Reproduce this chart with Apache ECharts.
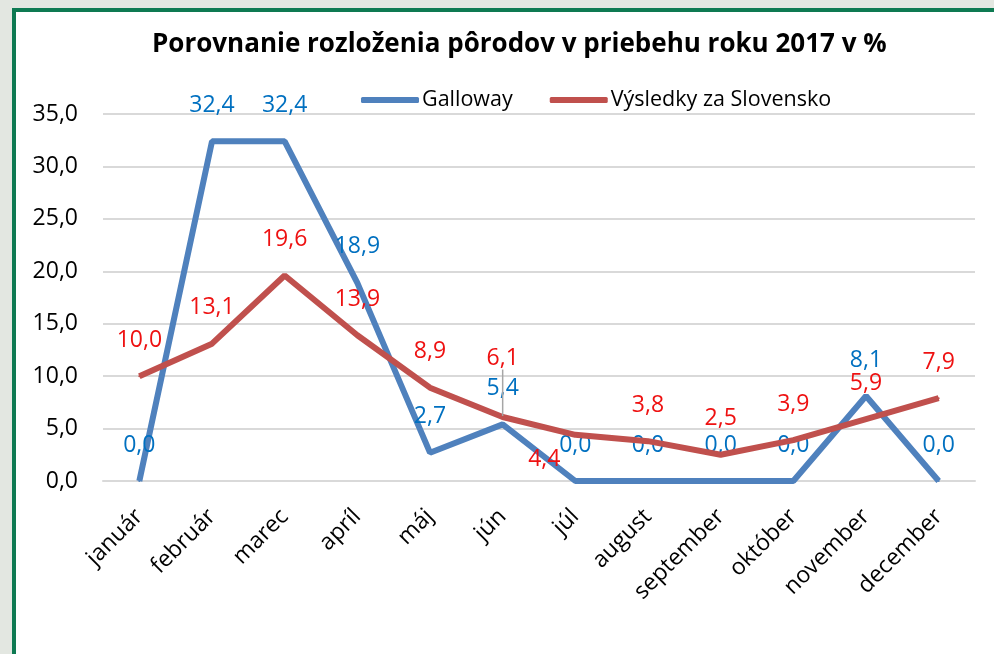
<!DOCTYPE html>
<html>
<head>
<meta charset="utf-8">
<script src="https://cdn.jsdelivr.net/npm/echarts@6/dist/echarts.min.js"></script>
<style>
    html, body { margin: 0; padding: 0; width: 994px; height: 654px; overflow: hidden; background: #e3e7e1; }
    #frame { position: absolute; left: 12px; top: 8px; width: 990px; height: 660px; background: #fff; border: 4px solid #0e7a52; }
    #echarts { position: absolute; left: 0; top: 0; width: 994px; height: 654px; }
</style>
</head>
<body>
<div id="frame"></div>
<div id="echarts"></div>
<script>
var months = ['január', 'február', 'marec', 'apríl', 'máj', 'jún', 'júl', 'august', 'september', 'október', 'november', 'december'];
var galloway = [0.0, 32.4, 32.4, 18.9, 2.7, 5.4, 0.0, 0.0, 0.0, 0.0, 8.1, 0.0];
var slovensko = [10.0, 13.1, 19.6, 13.9, 8.9, 6.1, 4.4, 3.8, 2.5, 3.9, 5.9, 7.9];

var FONT = '"Open Sans", sans-serif';

function fmt(v) {
    return v.toFixed(1).replace('.', ',');
}

var chartDom = document.getElementById('echarts');
var myChart = echarts.init(chartDom, null, { renderer: 'canvas' });

// jún label is pushed up and gets a leader line to its point
var slovData = slovensko.map(function (v, i) {
    var item = { value: v };
    if (i === 5) {
        item.labelLine = { show: true, lineStyle: { color: '#a6a6a6', width: 1.5 } };
    }
    return item;
});

const option = {
    animation: false,
    title: {
        text: 'Porovnanie rozloženia pôrodov v priebehu roku 2017 v %',
        left: 147,
        top: 27,
        textStyle: {
            fontFamily: FONT,
            fontSize: 26,
            fontWeight: 'bold',
            color: '#000'
        }
    },
    legend: {
        left: 356,
        top: 84,
        itemWidth: 58,
        itemHeight: 6,
        itemGap: 37,
        icon: 'roundRect',
        textStyle: {
            fontFamily: FONT,
            fontSize: 21.5,
            color: '#000',
            padding: [0, 0, 0, -2]
        }
    },
    grid: {
        left: 103,
        right: 19,
        top: 114,
        bottom: 173
    },
    xAxis: {
        type: 'category',
        data: months,
        boundaryGap: true,
        axisTick: { show: false },
        axisLine: { lineStyle: { color: '#d9d9d9', width: 2 } },
        axisLabel: {
            interval: 0,
            rotate: 45,
            margin: 32,
            fontFamily: FONT,
            fontSize: 23,
            color: '#000'
        }
    },
    yAxis: {
        type: 'value',
        min: 0,
        max: 35,
        interval: 5,
        axisLine: { show: false },
        axisTick: { show: false },
        splitLine: { lineStyle: { color: '#d9d9d9', width: 2 } },
        axisLabel: {
            margin: 25,
            fontFamily: FONT,
            fontSize: 23,
            color: '#000',
            formatter: fmt
        }
    },
    series: [
        {
            name: 'Galloway',
            type: 'line',
            data: galloway,
            symbol: 'circle',
            symbolSize: 2,
            showSymbol: true,
            color: '#4f81bd',
            lineStyle: { width: 6, color: '#4f81bd' },
            itemStyle: { color: '#4f81bd' },
            label: {
                show: true,
                position: 'inside',
                fontFamily: FONT,
                fontSize: 23,
                color: '#0070c0',
                formatter: function (p) { return fmt(p.value); }
            },
            labelLayout: { dy: -36 },
            z: 2
        },
        {
            name: 'Výsledky za Slovensko',
            type: 'line',
            data: slovData,
            symbol: 'circle',
            symbolSize: 2,
            showSymbol: true,
            color: '#c0504d',
            lineStyle: { width: 6, color: '#c0504d' },
            itemStyle: { color: '#c0504d' },
            label: {
                show: true,
                position: 'inside',
                fontFamily: FONT,
                fontSize: 23,
                color: '#ee1111',
                formatter: function (p) { return fmt(p.value); }
            },
            labelLayout: function (params) {
                if (params.dataIndex === 5) {
                    return { dy: -59 };
                }
                if (params.dataIndex === 6) {
                    return { dx: -31, dy: 25 };
                }
                return { dy: -36 };
            },
            z: 3
        }
    ]
};

myChart.setOption(option);
</script>
</body>
</html>
